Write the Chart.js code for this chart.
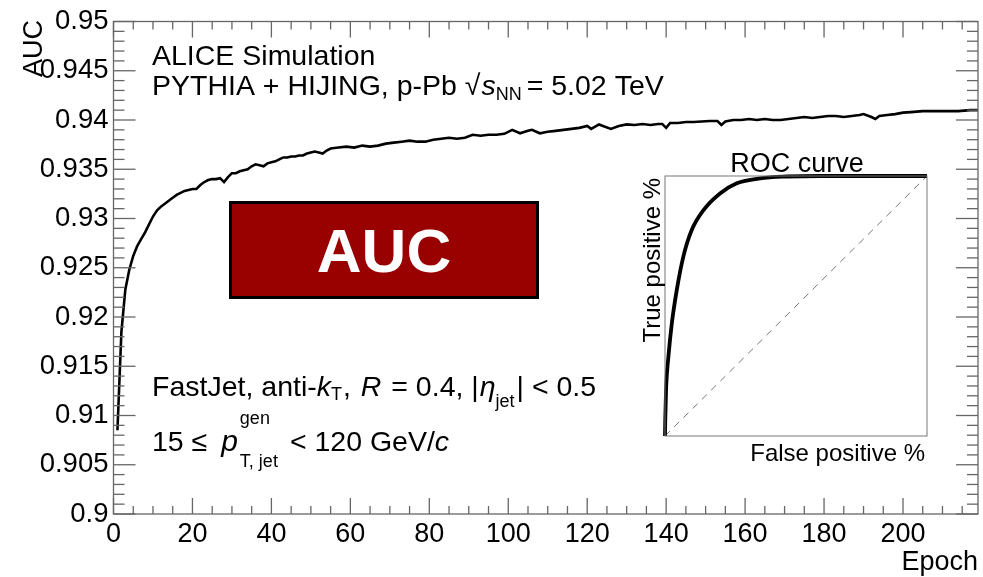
<!DOCTYPE html>
<html>
<head>
<meta charset="utf-8">
<script src="https://cdn.jsdelivr.net/npm/chart.js@4.4.1/dist/chart.umd.min.js"></script>
<style>
  body { margin: 0; background: #fff; }
  #wrap { position: relative; width: 983px; height: 577px; }
  #main { position: absolute; left: 0; top: 0; }
  #roc { position: absolute; left: 620px; top: 140px; }
</style>
</head>
<body>
<div id="wrap">
  <canvas id="main" width="983" height="577"></canvas>
  <canvas id="roc" width="330" height="335"></canvas>
</div>
<script>
// AUC per training epoch
const epochs = [
  1, 2, 3, 4, 5, 6, 7, 8, 9, 10,
  11, 12, 13, 14, 15, 16, 17, 18, 19, 20,
  21, 22, 23, 24, 25, 26, 27, 28, 29, 30,
  31, 32, 33, 34, 35, 36, 37, 38, 39, 40,
  41, 42, 43, 44, 45, 46, 47, 48, 49, 50,
  51, 52, 53, 54, 55, 57, 59, 61, 63, 65,
  67, 69, 71, 73, 75, 77, 79, 81, 83, 85,
  87, 89, 91, 93, 95, 97, 99, 101, 103, 105,
  106, 108, 110, 112, 114, 116, 118, 120, 121, 123,
  124, 126, 128, 130, 132, 134, 136, 138, 139, 140,
  141, 143, 145, 147, 149, 151, 153, 154, 155, 157,
  159, 161, 163, 165, 167, 169, 171, 173, 175, 177,
  179, 181, 183, 185, 187, 189, 190, 192, 193, 194,
  196, 198, 200, 202, 205, 208, 211, 214, 217, 219
];
const auc = [
  0.9085, 0.9185, 0.9228, 0.9248, 0.9262, 0.9272, 0.9279, 0.9286, 0.9294, 0.9302,
  0.9308, 0.9312, 0.9315, 0.9318, 0.9321, 0.9324, 0.9326, 0.9328, 0.9329, 0.9330,
  0.9330, 0.9334, 0.9337, 0.9339, 0.9340, 0.9340, 0.9341, 0.9337, 0.9342, 0.9346,
  0.9346, 0.9348, 0.9349, 0.9350, 0.9353, 0.9355, 0.9354, 0.9353, 0.9356, 0.9357,
  0.9358, 0.9360, 0.9362, 0.9362, 0.9363, 0.9363, 0.9364, 0.9364, 0.9366, 0.9367,
  0.9368, 0.9367, 0.9366, 0.9369, 0.9371, 0.9372, 0.9373, 0.9372, 0.9374, 0.9373,
  0.9374, 0.9376, 0.9377, 0.9378, 0.9379, 0.9378, 0.9378, 0.9380, 0.9381, 0.9382,
  0.9381, 0.9382, 0.9385, 0.9384, 0.9385, 0.9385, 0.9386, 0.9390, 0.93865, 0.9389,
  0.9390, 0.93865, 0.9388, 0.9389, 0.9390, 0.9391, 0.9392, 0.9394, 0.9391, 0.93955,
  0.9394, 0.9391, 0.9394, 0.93955, 0.9395, 0.9396, 0.9395, 0.9396, 0.9396, 0.9392,
  0.9397, 0.9397, 0.9398, 0.9398, 0.93985, 0.9399, 0.9399, 0.9395, 0.93985, 0.9400,
  0.9400, 0.9401, 0.9400, 0.9401, 0.9400, 0.9400, 0.9401, 0.9402, 0.9403, 0.9402,
  0.9403, 0.9404, 0.9404, 0.9403, 0.9404, 0.9405, 0.9406, 0.9403, 0.9401, 0.9404,
  0.9405, 0.9406, 0.94075, 0.9408, 0.9409, 0.9409, 0.9409, 0.9409, 0.9410, 0.9410
];

// inset ROC curve
const rocFpr = [0, 0.001, 0.004, 0.013, 0.026, 0.045, 0.070, 0.102, 0.147, 0.210, 0.274, 0.363, 0.465, 0.6, 0.8, 1.0];
const rocTpr = [0, 0.06, 0.177, 0.305, 0.433, 0.562, 0.690, 0.792, 0.869, 0.933, 0.972, 0.991, 0.998, 1.0, 1.0, 1.0];
const diagFpr = [0, 1];
const diagTpr = [0, 1];

const FONT = "'Liberation Sans', Arial, Helvetica, sans-serif";

// draw a line of mixed text (italic, sub/superscripts)
function drawParts(ctx, parts, x0, y0) {
  let cx = x0;
  ctx.textAlign = 'left';
  ctx.textBaseline = 'alphabetic';
  ctx.fillStyle = '#000';
  for (const p of parts) {
    ctx.font = (p.it ? 'italic ' : '') + (p.size || 28.5) + 'px ' + FONT;
    const x = p.x !== undefined ? p.x : cx;
    ctx.fillText(p.t, x, y0 + (p.dy || 0));
    if (!p.hold) cx = x + ctx.measureText(p.t).width + (p.gap || 0);
  }
}

function line(ctx, x1, y1, x2, y2) {
  ctx.beginPath();
  ctx.moveTo(x1, y1);
  ctx.lineTo(x2, y2);
  ctx.stroke();
}

// frame with inward ticks on all four sides (ROOT style)
const frameTicks = {
  id: 'frameTicks',
  afterDatasetsDraw(chart) {
    const ctx = chart.ctx, ca = chart.chartArea;
    const xs = chart.scales.x, ys = chart.scales.y;
    ctx.save();
    ctx.strokeStyle = '#666';
    ctx.lineWidth = 1.3;
    for (let v = 0; v <= xs.max; v += 5) {
      const px = xs.getPixelForValue(v);
      const len = v % 20 === 0 ? 16 : 8;
      line(ctx, px, ca.bottom, px, ca.bottom - len);
      line(ctx, px, ca.top, px, ca.top + len);
    }
    for (let k = 0; k <= 50; k++) {
      const py = ys.getPixelForValue(0.9 + k * 0.001);
      const len = k % 5 === 0 ? 22 : 11;
      line(ctx, ca.left, py, ca.left + len, py);
      line(ctx, ca.right, py, ca.right - len, py);
    }
    ctx.strokeRect(ca.left, ca.top, ca.right - ca.left, ca.bottom - ca.top);
    ctx.restore();
  },
  afterDraw(chart) {
    const ctx = chart.ctx;
    ctx.save();
    // axis titles
    ctx.fillStyle = '#000';
    ctx.font = '27px ' + FONT;
    ctx.textAlign = 'right';
    ctx.fillText('Epoch', 978, 570);
    ctx.save();
    ctx.translate(42, 20);
    ctx.rotate(-Math.PI / 2);
    ctx.fillText('AUC', 0, 0);
    ctx.restore();

    // labels
    drawParts(ctx, [{ t: 'ALICE Simulation' }], 152, 65);
    drawParts(ctx, [
      { t: 'PYTHIA + HIJING, p-Pb ' },
      { t: '\u221A', gap: 1 },
      { t: 's', it: true },
      { t: 'NN', size: 18, dy: 5, gap: 5 },
      { t: '= 5.02 TeV' }
    ], 152, 95);
    drawParts(ctx, [
      { t: 'FastJet, anti-' },
      { t: 'k', it: true },
      { t: 'T', size: 18, dy: 4, gap: 1 },
      { t: ', ', gap: 2 },
      { t: 'R', it: true, gap: 2 },
      { t: ' = 0.4, |', gap: 1 },
      { t: '\u03B7', it: true },
      { t: 'jet', size: 18, dy: 11, gap: 2 },
      { t: '| < 0.5' }
    ], 152, 396);
    drawParts(ctx, [
      { t: '15 \u2264 ', gap: 6 },
      { t: 'p', it: true, size: 30, gap: 2 },
      { t: 'gen', size: 18, dy: -27, hold: true },
      { t: 'T, jet', size: 18, dy: 16, gap: 12 },
      { t: '< 120 GeV/' },
      { t: 'c', it: true }
    ], 152, 451);

    // AUC badge
    ctx.fillStyle = '#990000';
    ctx.fillRect(230.5, 202.5, 307, 95);
    ctx.strokeStyle = '#000';
    ctx.lineWidth = 3;
    ctx.strokeRect(230.5, 202.5, 307, 95);
    ctx.fillStyle = '#fff';
    ctx.font = 'bold 62px ' + FONT;
    ctx.textAlign = 'center';
    ctx.fillText('AUC', 384, 272);
    ctx.restore();
  }
};

new Chart(document.getElementById('main'), {
  type: 'line',
  data: {
    datasets: [{
      data: epochs.map((e, i) => ({ x: e, y: auc[i] })),
      borderColor: '#000',
      borderWidth: 2.6,
      pointRadius: 0,
      tension: 0,
      fill: false
    }]
  },
  options: {
    responsive: false,
    animation: false,
    devicePixelRatio: 1,
    layout: { padding: { top: 20, right: 5, left: 0, bottom: 0 } },
    plugins: { legend: { display: false }, tooltip: { enabled: false } },
    scales: {
      x: {
        type: 'linear',
        min: 0,
        max: 219,
        grid: { display: false, drawTicks: false },
        border: { display: false },
        ticks: {
          stepSize: 20,
          autoSkip: false,
          maxRotation: 0,
          padding: 4,
          color: '#000',
          font: { family: FONT, size: 27 }
        },
        afterBuildTicks(scale) {
          scale.ticks = scale.ticks.filter(t => t.value % 20 === 0);
        },
        afterFit(scale) { scale.height = 63; }
      },
      y: {
        min: 0.9,
        max: 0.95,
        grid: { display: false, drawTicks: false },
        border: { display: false },
        ticks: {
          stepSize: 0.005,
          padding: 5,
          color: '#000',
          font: { family: FONT, size: 27.5 },
          callback: v => String(Number(v.toFixed(3)))
        },
        afterFit(scale) { scale.width = 113.5; }
      }
    }
  },
  plugins: [frameTicks]
});

// inset decorations
const rocDecor = {
  id: 'rocDecor',
  afterDraw(chart) {
    const ctx = chart.ctx, ca = chart.chartArea;
    ctx.save();
    ctx.strokeStyle = '#777';
    ctx.lineWidth = 1;
    ctx.strokeRect(ca.left, ca.top, ca.right - ca.left, ca.bottom - ca.top);
    ctx.fillStyle = '#000';
    ctx.font = '27px ' + FONT;
    ctx.textAlign = 'center';
    ctx.fillText('ROC curve', 177, 32);
    ctx.font = '24px ' + FONT;
    ctx.textAlign = 'right';
    ctx.fillText('False positive %', 305, 321);
    ctx.translate(40, 38);
    ctx.rotate(-Math.PI / 2);
    ctx.fillText('True positive %', 0, 0);
    ctx.restore();
  }
};

new Chart(document.getElementById('roc'), {
  type: 'line',
  data: {
    datasets: [{
      data: rocFpr.map((x, i) => ({ x: x, y: rocTpr[i] })),
      borderColor: '#000',
      borderWidth: 3.8,
      pointRadius: 0,
      cubicInterpolationMode: 'monotone',
      clip: false
    }, {
      data: diagFpr.map((x, i) => ({ x: x, y: diagTpr[i] })),
      borderColor: '#777',
      borderWidth: 1,
      borderDash: [7, 6],
      pointRadius: 0
    }]
  },
  options: {
    responsive: false,
    animation: false,
    devicePixelRatio: 1,
    layout: { padding: { top: 36, right: 23, left: 0, bottom: 0 } },
    plugins: { legend: { display: false }, tooltip: { enabled: false } },
    scales: {
      x: {
        type: 'linear', min: 0, max: 1,
        ticks: { display: false },
        grid: { display: false, drawTicks: false },
        border: { display: false },
        afterFit(scale) { scale.height = 39; }
      },
      y: {
        min: 0, max: 1,
        ticks: { display: false },
        grid: { display: false, drawTicks: false },
        border: { display: false },
        afterFit(scale) { scale.width = 45; }
      }
    }
  },
  plugins: [rocDecor]
});
</script>
</body>
</html>
